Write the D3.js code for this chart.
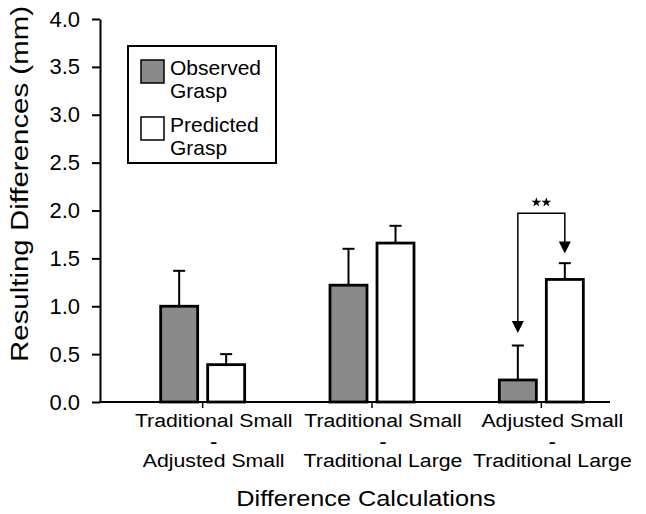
<!DOCTYPE html>
<html>
<head>
<meta charset="utf-8">
<title>Resulting Differences</title>
<script src="https://cdn.jsdelivr.net/npm/d3@7"></script>
<style>
  body { margin: 0; background: #fff; }
  svg { display: block; font-family: "Liberation Sans", Arial, sans-serif; }
</style>
</head>
<body>
<svg id="chart" width="646" height="514"></svg>
<script>
// data
const categories = [
  ["Traditional Small", "-", "Adjusted Small"],
  ["Traditional Small", "-", "Traditional Large"],
  ["Adjusted Small", "-", "Traditional Large"]
];
const series = ["Observed Grasp", "Predicted Grasp"];
const observed     = [1.00, 1.22, 0.23];
const observedErr  = [0.37, 0.38, 0.36];
const predicted    = [0.39, 1.66, 1.28];
const predictedErr = [0.11, 0.18, 0.17];
const yTicks = [0, 0.5, 1, 1.5, 2, 2.5, 3, 3.5, 4];

// ** between observed and predicted of the 3rd group
const sigGroup = 2;
const sigLevel = 1.97;
const sigTips  = [0.72, 1.55];

const svg = d3.select('#chart');

const y = d3.scaleLinear().domain([0, 4]).range([402, 19]);
const x = d3.scaleBand().domain(d3.range(categories.length)).range([118, 626]);
const xs = d3.scaleBand().domain(series).range([-42, 42]).paddingInner(0.213);
const cx = i => x(i) + x.bandwidth() / 2;

const fills = ['#8a8a8a', '#ffffff'];

// y axis
const yAxis = svg.append('g')
  .attr('transform', 'translate(100,0)')
  .call(d3.axisLeft(y).tickValues(yTicks).tickFormat(d3.format('.1f'))
    .tickSize(8).tickSizeOuter(0).tickPadding(12));
yAxis.attr('font-family', null).attr('font-size', 22);
yAxis.select('.domain').attr('stroke-width', 2);
yAxis.selectAll('.tick line').attr('stroke-width', 2);
yAxis.selectAll('.tick text').attr('fill', '#000');

// x axis line + category ticks
svg.append('line')
  .attr('x1', 99).attr('x2', 610)
  .attr('y1', y(0)).attr('y2', y(0))
  .attr('stroke', '#000').attr('stroke-width', 2);
svg.selectAll('.xtick')
  .data(d3.range(categories.length))
  .join('line')
  .attr('class', 'xtick')
  .attr('x1', cx).attr('x2', cx)
  .attr('y1', y(0)).attr('y2', y(0) + 6)
  .attr('stroke', '#000').attr('stroke-width', 1.5);

// bars and error bars
const seriesData = [
  { name: series[0], vals: observed, errs: observedErr },
  { name: series[1], vals: predicted, errs: predictedErr }
];
seriesData.forEach((s, si) => {
  const g = svg.append('g');
  s.vals.forEach((v, i) => {
    const bx = cx(i) + xs(s.name);
    const mid = bx + xs.bandwidth() / 2;
    g.append('line')
      .attr('x1', mid).attr('x2', mid)
      .attr('y1', y(v)).attr('y2', y(v + s.errs[i]))
      .attr('stroke', '#000').attr('stroke-width', 2);
    g.append('line')
      .attr('x1', mid - 6).attr('x2', mid + 6)
      .attr('y1', y(v + s.errs[i])).attr('y2', y(v + s.errs[i]))
      .attr('stroke', '#000').attr('stroke-width', 2);
    g.append('rect')
      .attr('x', bx).attr('y', y(v))
      .attr('width', xs.bandwidth()).attr('height', y(0) - y(v))
      .attr('fill', fills[si])
      .attr('stroke', '#000').attr('stroke-width', 2.8);
  });
});

// significance bracket with arrows
const ax = series.map(n => cx(sigGroup) + xs(n) + xs.bandwidth() / 2);
svg.append('path')
  .attr('d', `M${ax[0]},${y(sigTips[0]) - 11} V${y(sigLevel)} H${ax[1]} V${y(sigTips[1]) - 11}`)
  .attr('fill', 'none').attr('stroke', '#000').attr('stroke-width', 1.5);
ax.forEach((px, k) => {
  const ty = y(sigTips[k]);
  svg.append('path')
    .attr('d', `M${px - 6},${ty - 12} L${px + 6},${ty - 12} L${px},${ty} Z`)
    .attr('fill', '#000');
});
const star = d3.symbol().type(d3.symbolStar).size(30);
[-5, 5].forEach(dx => {
  svg.append('path')
    .attr('d', star())
    .attr('transform', `translate(${(ax[0] + ax[1]) / 2 + dx},${y(sigLevel) - 11})`)
    .attr('fill', '#000');
});

// legend
const lg = svg.append('g');
lg.append('rect')
  .attr('x', 128).attr('y', 46).attr('width', 148).attr('height', 117)
  .attr('fill', '#fff').attr('stroke', '#000').attr('stroke-width', 2);
series.forEach((name, i) => {
  const top = 60 + i * 57;
  lg.append('rect')
    .attr('x', 141).attr('y', top).attr('width', 23).attr('height', 23)
    .attr('fill', fills[i]).attr('stroke', '#000').attr('stroke-width', 1.5);
  name.split(' ').forEach((w, j) => {
    lg.append('text')
      .attr('x', 170).attr('y', top + 15 + j * 23)
      .attr('font-size', 21)
      .text(w);
  });
});

// category labels (the middle dash is set smaller so it sits between the lines)
const lineY = [427, 447, 467];
const lineSize = [19, 14, 19];
const lineScale = [1.12, 1.5, 1.12];
categories.forEach((lines, i) => {
  lines.forEach((t, j) => {
    svg.append('text')
      .attr('transform', `translate(${cx(i) + 11},${lineY[j]}) scale(${lineScale[j]},1)`)
      .attr('text-anchor', 'middle')
      .attr('font-size', lineSize[j])
      .attr('font-weight', j === 1 ? 'bold' : null)
      .text(t);
  });
});

// axis titles
svg.append('text')
  .attr('transform', `translate(366,506) scale(1.15,1)`)
  .attr('text-anchor', 'middle')
  .attr('font-size', 22)
  .text('Difference Calculations');

svg.append('text')
  .attr('transform', `translate(28,184) rotate(-90) scale(1.28,1)`)
  .attr('text-anchor', 'middle')
  .attr('font-size', 23)
  .text('Resulting Differences (mm)');
</script>
</body>
</html>
